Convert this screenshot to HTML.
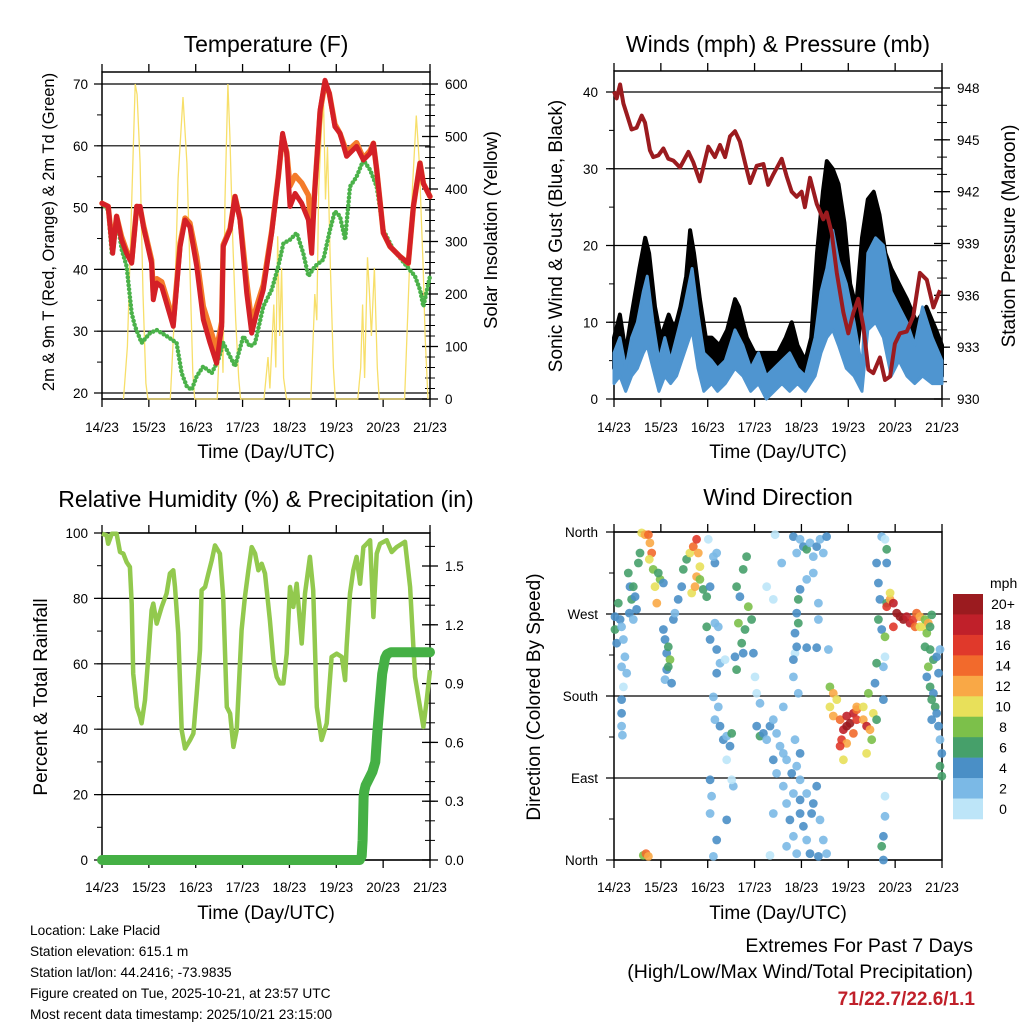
<!DOCTYPE html>
<html><head><meta charset="utf-8"><style>
html,body{margin:0;padding:0;background:#fff;}
svg{display:block;font-family:"Liberation Sans",Arial,sans-serif;}
</style></head><body>
<svg id="root" width="1024" height="1024" viewBox="0 0 1024 1024" xmlns="http://www.w3.org/2000/svg">
<rect width="1024" height="1024" fill="#fff"/>
<text x="266" y="52" font-size="23" text-anchor="middle">Temperature (F)</text>
<text x="778" y="52" font-size="23" text-anchor="middle">Winds (mph) &amp; Pressure (mb)</text>
<text x="266" y="507" font-size="23" text-anchor="middle">Relative Humidity (%) &amp; Precipitation (in)</text>
<text x="778" y="505" font-size="23" text-anchor="middle">Wind Direction</text>
<text x="266" y="458" font-size="19" text-anchor="middle">Time (Day/UTC)</text>
<text x="778" y="458" font-size="19" text-anchor="middle">Time (Day/UTC)</text>
<text x="266" y="919" font-size="19" text-anchor="middle">Time (Day/UTC)</text>
<text x="778" y="919" font-size="19" text-anchor="middle">Time (Day/UTC)</text>
<text transform="translate(54,232) rotate(-90)" font-size="16.5" text-anchor="middle">2m &amp; 9m T (Red, Orange) &amp; 2m Td (Green)</text>
<text transform="translate(497,230) rotate(-90)" font-size="18.5" text-anchor="middle">Solar Insolation (Yellow)</text>
<text transform="translate(562,236) rotate(-90)" font-size="19" text-anchor="middle">Sonic Wind &amp; Gust (Blue, Black)</text>
<text transform="translate(1015,236) rotate(-90)" font-size="19" text-anchor="middle">Station Pressure (Maroon)</text>
<text transform="translate(47,697) rotate(-90)" font-size="19" text-anchor="middle">Percent &amp; Total Rainfall</text>
<text transform="translate(540,697) rotate(-90)" font-size="19" text-anchor="middle">Direction (Colored By Speed)</text>
<g font-size="13.7">
<text x="30" y="935">Location: Lake Placid</text>
<text x="30" y="956">Station elevation: 615.1 m</text>
<text x="30" y="977">Station lat/lon: 44.2416; -73.9835</text>
<text x="30" y="998">Figure created on Tue, 2025-10-21, at 23:57 UTC</text>
<text x="30" y="1019">Most recent data timestamp: 2025/10/21 23:15:00</text>
</g>
<text x="973" y="952" font-size="19.5" text-anchor="end">Extremes For Past 7 Days</text>
<text x="973" y="978" font-size="19.5" text-anchor="end">(High/Low/Max Wind/Total Precipitation)</text>
<text x="975" y="1005" font-size="19" font-weight="bold" fill="#c0202a" text-anchor="end">71/22.7/22.6/1.1</text>
</svg>
<script>
// ---------- data ----------
const dayLabels=["14/23","15/23","16/23","17/23","18/23","19/23","20/23","21/23"];
const tempT=[0,3.2,5.5,7.5,10,12.6,15.2,17.8,19.5,21.2,25.4,26.3,28,30.6,34,36.5,40,42.5,45,48.5,51.9,55.3,58.7,61.3,62.1,65.6,68.1,70.7,74.1,76.7,79.2,82.6,86.9,90.3,92.5,94.6,96.3,98.9,102.3,105.7,107.4,109.1,111.7,114.2,116.4,119.3,121.9,125.3,130.4,133.9,137.3,139,140.7,144.1,147.5,152.6,156.9,159.5,162.9,164.6,168];
const temp2m=[50.7,50.2,42.6,48.6,44.8,42.6,41,50.2,50.2,46.9,41,35.1,37.8,37.2,33.5,30.8,43.7,48,46.9,40.5,31.9,28.1,24.8,30.8,43.7,46.4,51.8,48,36.2,29.7,32.9,36.7,45.9,55,62,58.8,50.2,52.3,50.7,48,42.6,53.4,65.8,70.6,68.5,63.1,62,58.3,59.9,57.7,58.8,60.4,56.1,45.9,43.7,42.1,41,50.2,57.2,53.9,51.8];
const temp9m=[50.7,50.2,43.2,48.6,45.3,43,41.4,50.2,50,47.2,41.5,36,38.5,38,34.5,31.5,44.2,48.3,47.5,42,34,30.5,27,31.5,44,46.6,51.8,48.3,38,31.3,34,37.5,46.2,55,61.6,59,53.5,55.2,54,52,46,53.4,65.5,70.2,68.5,63.5,62,59,60.5,58,59.2,60.4,56.1,45.9,43.7,42.1,41,50.2,57.2,53.9,51.8];
const tdT=[0,3.2,5,7.5,10.1,12.6,15.2,16.9,20.3,24.6,28,33.1,38.2,40.8,43.4,45.9,48.5,51.9,56.2,59.6,62.1,65.6,68.1,72.4,75.8,78.4,82.6,86.9,90.3,92.9,96.3,99.7,103.1,105.7,109.1,113.4,116.8,119.3,121.9,124.5,127,130.4,133.9,137.3,140.7,144.1,149.2,156.1,160.3,162.9,164.6,168];
const tdV=[50.7,49.6,42.6,48.6,43.2,40.5,32.9,30.8,28.1,29.7,30.2,29.2,28.1,23.2,21.1,20.5,22.7,24.3,23.2,25.4,28.1,25.9,24.3,29.2,27.5,28.1,34,36.7,40.5,44.2,44.8,45.9,42.6,38.9,40.5,41.6,46.4,49.4,48.6,44.8,53.4,55,57.7,56.1,53.4,46.4,43.2,40.5,38.9,36.7,34,38.9];
const solarT=[11,13,15,17,18,19.5,21,22.5,23.5,35,37,39,41.5,43.5,45,46.5,47.5,59,61,62,63,64.5,65.5,67,68.5,70,71,83,85,86,88,89,90,91,92,93,94.5,107,109,110,111,112.5,113.5,114.5,115.5,117,118.5,119.5,131,132.5,133.5,134.5,136,137,138,139.5,141,142,155,157,159,161,162.5,163.5,164.5,165.5,167];
const solarV=[0,100,350,600,580,450,200,30,0,0,150,420,575,450,250,50,0,0,180,50,380,600,500,300,150,40,0,0,80,20,180,60,310,120,250,40,0,0,200,150,400,520,560,380,480,250,60,0,0,60,180,40,270,200,120,250,60,0,0,200,400,540,450,350,250,120,0];
const presT=[0,1.4,3.1,4.8,6.5,9,11.6,14.2,15.9,18.4,20.1,22.7,25.3,27.8,30.4,33.8,38.1,40.6,44,48.3,51.7,54.3,56.9,59.4,62,64.5,67.9,69.7,73.1,76.5,79,81.6,85.9,88.4,91,93.6,96.1,97.8,100.4,103.8,107.2,108.9,111.5,114.1,117.5,120,122.6,125.1,127.7,130.3,132.8,136.2,138.8,141.4,143.9,146.5,149.9,153.3,156.7,160.2,163.6,167];
const presV=[947.8,947.4,948.2,947.1,946.5,945.6,945.7,946.4,946,944.4,944,944.1,944.5,943.9,943.8,943.4,944.3,943.7,942.6,944.6,944,944.7,944,945.2,945.5,944.9,943.3,942.5,943.5,943.6,942.4,943,943.9,942.9,942,941.7,942,941.1,942.8,941.3,940.4,940.8,939.6,937.3,935,933.8,935,935.8,934.2,931.7,931.5,932.4,931.1,931.3,933.2,933.8,933.9,934.8,937.3,936.9,935.3,936.3];
const windT=[0,3,6,9,12,15,17,20,23,26,29,32,36,40,43,46,50,53,57,62,66,70,74,78,82,86,90,94,98,103,106,109,112,115,119,123,127,130,134,138,142,146,150,154,158,163,168];
const windLo=[2,3,1,3,4,6,7,4,1,3,2,3,6,9,4,1,2,1,2,4,3,1,2,0,1,2,1,2,1,3,6,8,9,7,4,3,1,9,10,8,3,5,3,2,3,2,2];
const windHi=[6,8,4,8,10,14,16,10,5,8,5,8,12,17,11,6,5,4,5,9,7,4,6,3,4,5,6,4,3,8,14,17,22,18,15,10,4,19,21,20,14,12,10,7,12,8,5];
const gustT=[0,3,6,9,13,16,18,21,24,28,31,34,37,39,41,44,47,50,54,58,62,64,68,72,76,80,84,88,91,94,98,101,104,107,109,112,115,118,121,124,127,130,133,136,139,142,146,150,155,160,165,168];
const gustLo=[4,6,3,6,9,13,11,7,4,6,5,7,10,14,12,7,4,5,4,5,8,7,5,4,3,4,4,5,5,4,3,5,10,15,18,19,17,12,6,5,12,17,18,15,10,8,7,6,4,5,4,3];
const gustHi=[8,11,6,11,17,21,19,12,8,11,9,12,16,22,19,13,8,8,7,9,13,12,8,6,6,6,6,8,10,7,5,8,19,27,31,30,28,23,15,12,21,26,27,24,19,17,15,13,10,12,9,7];
const rhT=[0,2.4,3.2,5,7.5,9.2,10.9,12.6,14.3,15.2,16,17.8,19.5,20.3,22,23.7,25.4,26.3,28,30.6,33.1,34.8,36.5,37.4,39.1,40.8,42.5,45.1,46.8,48.5,50.2,51,52.8,54.5,56.2,57.9,60.4,62.1,63.9,65.6,67.3,69,71.5,73.2,75,76.7,78.4,80.1,81.8,83.5,86,87.8,89.5,91.2,92.9,94.6,96.3,98,99.7,102.3,104,106.5,108.2,110,112.5,115.1,117.6,120.2,122.8,124.5,125.3,127,128.7,130.4,132.2,133.9,135.6,137.3,139,140.7,142.4,145.8,148.4,150.9,155.2,157.8,160.3,162.9,164.6,166.3,168];
const rhV=[99.8,99.3,96.7,99.8,99.8,94.2,93.7,91.1,89.6,78.4,57,46.8,43.8,41.8,48.9,62.1,76.4,78.4,72.3,77.4,81.5,87.6,88.6,83.5,69.2,39.7,34.1,36.7,38.7,50.9,64.2,82.5,83.5,87.6,91.6,96.2,93.7,80.4,46.8,44.8,34.6,39.7,70.3,80.4,88.6,95.7,93.7,88.6,90.6,87.6,73.3,61.1,56,54,54,63.1,83.5,77.4,84.5,66.2,81.5,92.7,82.5,46.8,36.7,41.8,62.1,63.1,62.1,55,65.2,81.5,88.6,92.7,84.5,95.7,96.7,97.8,74.3,93.7,96.7,97.8,94.2,95.7,97.3,83.5,56,46.8,40.7,48.9,58];
const precipT=[0,132,133,133.5,134,134.3,135,137,138.5,140,141,142,143.5,145,146,148,168];
const precipV=[0,0,0.02,0.1,0.32,0.35,0.38,0.42,0.45,0.5,0.65,0.77,0.95,1.03,1.05,1.06,1.06];
const dirT=[0.5,0.5,1.4,2.2,3.1,3.9,4.8,5.6,3.9,4.8,6.5,7.3,8.2,9,9.9,10.8,11.6,7.9,9.9,12.5,13.3,14.2,15.9,17.6,18.4,19.3,18.1,20.1,21,21.9,23.6,25.3,22.7,15,16.4,17.6,3.9,3.9,3.9,4.3,25.3,26.1,27,27.8,28.7,27,26.1,29.5,27.8,30.4,31.2,32.9,34.7,35.5,37.2,38.9,40.6,42.3,43.2,44,42.3,39.8,41.5,44,45.7,47.5,49.2,51.7,50.9,52.6,48.3,47.5,49.2,51.7,53.4,52.6,54.3,56.9,52.6,50.9,53.4,51.7,54.3,56,57.7,60.3,59.4,57.7,49.2,50,49.2,52.6,50.9,57.7,61.1,60.3,62.8,64.5,66.2,67.9,68.8,70.5,67.1,65.4,63.7,62,62.8,66.2,71.4,72.2,73.1,74.8,73.1,74.8,76.5,78.2,79.9,81.6,83.3,85,86.7,88.4,91,93.6,95.3,92.7,95.3,81.6,83.3,78.2,81.6,85.9,82.5,91.9,92.7,94.4,86.7,86.7,88.4,90.1,91.9,93.6,95.3,97,98.7,100.4,102.1,103.8,105.5,107.2,108.9,88.4,98.7,101.2,95.3,91.9,81.6,79.9,104.7,91.9,93.6,95.3,97,98.7,100.4,102.1,103.8,105.5,107.2,108.9,95.3,98.7,102.1,104.7,94.4,93.6,94.4,92.7,93.6,98.7,103.8,104.7,109.8,91.9,110.6,112.3,114.1,110.6,112.3,115.8,119.2,122.6,120.9,124.3,117.5,119.2,116.6,119.2,124.3,127.7,129.4,131.1,132.8,130.3,132,134.5,124.3,122.6,115.8,117.5,129.4,127.7,134.5,135.4,136.2,135.4,137.1,138.8,138.8,138,134.5,139.7,139.7,137.1,138.8,138,133.7,138.8,138.8,138,137.1,138,139.7,139.7,141.4,143.1,144.8,146.5,148.2,149.9,151.6,153.3,155,156.7,158.4,159.3,161,160.2,161.9,162.7,143.1,141.4,154.2,156.7,159.3,161.9,163.6,165.3,161,160.2,161.9,163.6,164.5,162.7,162.7,165.3,166.2,167,167.9,167,167.9,166.2,167];
const dirDeg=[267,253,238,282,264,256,242,223,212,190,205,315,300,286,300,289,275,271,264,326,337,359,357,357,348,337,330,319,300,282,308,304,315,5,7,4,176,161,147,137,253,242,227,234,220,209,198,194,212,264,271,286,300,319,330,337,344,352,337,322,311,293,300,308,297,289,300,326,333,337,352,256,242,260,256,231,216,220,205,179,168,154,147,132,136,139,125,110,88,70,51,22,4,44,81,88,300,289,319,333,278,264,253,238,260,223,209,227,227,201,183,172,147,136,139,132,147,154,139,125,117,110,95,103,88,132,117,110,95,300,286,326,357,201,227,183,168,81,62,44,26,7,51,37,22,7,62,81,44,22,7,15,73,51,66,73,51,5,4,355,337,352,344,341,348,333,344,352,337,355,297,308,315,282,286,271,260,249,234,233,233,264,231,220,190,183,176,168,158,154,158,161,150,154,143,147,132,128,165,154,147,143,161,183,132,154,168,139,125,110,117,168,326,304,286,264,253,245,223,212,216,326,341,355,352,176,194,70,48,26,15,0,282,278,286,282,271,267,264,267,260,264,271,267,256,264,260,249,256,269,256,293,256,256,234,231,220,223,212,201,190,183,168,176,154,161,147,132,117,103,92,205,231];
const dirSpd=[4,6,4,7,5,3,2,2,3,1,3,6,5,7,6,5,4,4,3,7,7,10,12,15,12,14,11,9,10,13,8,5,6,8,15,12,4,4,3,2,4,5,4,7,8,5,2,4,6,4,3,4,5,6,7,10,14,16,13,11,12,10,12,9,7,6,4,4,3,3,1,6,4,3,2,4,2,1,4,2,3,3,4,4,2,7,4,1,4,3,3,4,2,4,2,1,6,5,7,6,8,6,7,6,8,4,7,4,4,1,1,2,4,6,4,3,4,3,2,3,2,3,4,3,3,2,4,4,2,1,1,2,1,2,1,2,2,2,3,4,3,2,4,4,3,4,5,4,2,3,2,2,3,4,4,3,2,1,4,4,2,3,4,6,3,2,4,3,3,4,4,3,3,2,6,5,6,4,4,4,4,2,3,4,9,12,10,10,12,15,18,19,20,16,19,21,16,12,15,12,18,13,10,8,8,7,13,15,17,10,10,10,4,4,4,6,5,8,1,3,6,4,7,2,1,4,4,1,2,4,7,4,6,16,12,18,20,22,21,19,18,16,15,13,11,9,12,8,7,6,16,10,14,10,7,7,6,4,8,4,6,5,6,6,5,4,4,3,4,6,7,4,3];
const speedLabels=["0","2","4","6","8","10","12","14","16","18","20+"];
const speedColors=["#bde5f8","#7bb9e6","#4a8fc6","#46a06a","#7cc04a","#e8e05a","#f9a846","#f26a2c","#e0392b","#c0202a","#9b1b1f"];

// ---------- helpers ----------
const NS="http://www.w3.org/2000/svg";
const root=document.getElementById('root');
function mk(tag,attrs,parent){const e=document.createElementNS(NS,tag);for(const k in attrs)e.setAttribute(k,attrs[k]);(parent||root).appendChild(e);return e;}
function pathD(xs,ys){let d='';for(let i=0;i<xs.length;i++)d+=(i?'L':'M')+xs[i].toFixed(1)+','+ys[i].toFixed(1);return d;}
function xs(p,T){return T.map(t=>p.x0+t/168*(p.x1-p.x0));}
function lin(v0,p0,v1,p1){return v=>p0+(v-v0)*(p1-p0)/(v1-v0);}

function frame(p,name,bottomLabelsY){
  const g=mk('g',{});
  
  
  for(let d=0;d<=7;d++){
    const x=p.x0+d*(p.x1-p.x0)/7;
    mk('line',{x1:x,x2:x,y1:p.y0-8,y2:p.y0,stroke:'#000','stroke-width':1.3},g);
    mk('line',{x1:x,x2:x,y1:p.y1,y2:p.y1+8,stroke:'#000','stroke-width':1.3},g);
    const t=mk('text',{x:x,y:bottomLabelsY,'font-size':13.5,'text-anchor':'middle'},g);
    t.textContent=dayLabels[d];
    
    
  }
  return g;
}
function box(p,g){mk('rect',{x:p.x0,y:p.y0,width:p.x1-p.x0,height:p.y1-p.y0,fill:'none',stroke:'#000','stroke-width':1.5},g);}
function leftAxis(p,g,vals,labels,sc,minor,labelX){
  minor.forEach(v=>mk('line',{x1:p.x0-5,x2:p.x0,y1:sc(v),y2:sc(v),stroke:'#000','stroke-width':1},g));
  vals.forEach((v,i)=>{
    const y=sc(v);
    mk('line',{x1:p.x0-8,x2:p.x1,y1:y,y2:y,stroke:'#000','stroke-width':1.2},g);
    const t=mk('text',{x:labelX,y:y+5,'font-size':13.5,'text-anchor':'end'},g);
    t.textContent=labels[i];
    
    
  });
}
function rightAxis(p,g,vals,labels,sc,minor){
  minor.forEach(v=>mk('line',{x1:p.x1-5,x2:p.x1+5,y1:sc(v),y2:sc(v),stroke:'#000','stroke-width':1},g));
  vals.forEach((v,i)=>{
    const y=sc(v);
    mk('line',{x1:p.x1-8,x2:p.x1+8,y1:y,y2:y,stroke:'#000','stroke-width':1.3},g);
    const t=mk('text',{x:p.x1+15,y:y+5,'font-size':13.5},g);
    t.textContent=labels[i];
    
    
  });
}
function range(a,b,s){const r=[];for(let v=a;v<=b+1e-9;v+=s)r.push(+v.toFixed(3));return r;}

// ---------- Panel 1: Temperature ----------
(function(){
  const p={x0:102,x1:430,y0:72,y1:399};
  const yT=lin(20,393,70,84), yS=lin(0,399,600,84);
  const g=frame(p,'temperature',432);
  leftAxis(p,g,[20,30,40,50,60,70],["20","30","40","50","60","70"],yT,range(20,70,5),88);
  rightAxis(p,g,[0,100,200,300,400,500,600],["0","100","200","300","400","500","600"],yS,range(0,600,20));
  const s=mk('path',{d:pathD(xs(p,solarT),solarV.map(yS)),fill:'none',stroke:'#f7df6a','stroke-width':1.3});
  
  
  const td=mk('path',{d:pathD(xs(p,tdT),tdV.map(yT)),fill:'none',stroke:'#4bb24a','stroke-width':4.5,'stroke-dasharray':'0 4','stroke-linecap':'round','stroke-linejoin':'round'});
  
  
  const o=mk('path',{d:pathD(xs(p,tempT),temp9m.map(yT)),fill:'none',stroke:'#f47b2a','stroke-width':5.5,'stroke-linejoin':'round','stroke-linecap':'round'});
  
  
  const r=mk('path',{d:pathD(xs(p,tempT),temp2m.map(yT)),fill:'none',stroke:'#d42027','stroke-width':5,'stroke-linejoin':'round','stroke-linecap':'round'});
  
  
  box(p,g);
})();

// ---------- Panel 2: Winds & Pressure ----------
(function(){
  const p={x0:614,x1:942,y0:71,y1:399};
  const yW=lin(0,399,40,92), yP=lin(930,399,948,88);
  const g=frame(p,'winds',432);
  leftAxis(p,g,[0,10,20,30,40],["0","10","20","30","40"],yW,range(0,40,5),598);
  rightAxis(p,g,[930,933,936,939,942,945,948],["930","933","936","939","942","945","948"],yP,range(930,948,1));
  const X=xs(p,gustT);
  const gd=pathD(X,gustHi.map(yW))+pathD(X.slice().reverse(),gustLo.slice().reverse().map(yW)).replace('M','L')+'Z';
  const gf=mk('path',{d:gd,fill:'#000',stroke:'#000','stroke-width':4,'stroke-linejoin':'round'});
  
  
  const WX=xs(p,windT);
  const wd=pathD(WX,windHi.map(yW))+pathD(WX.slice().reverse(),windLo.slice().reverse().map(yW)).replace('M','L')+'Z';
  const wb=mk('path',{d:wd,fill:'#4f95d0',stroke:'#4f95d0','stroke-width':3,'stroke-linejoin':'round'});
  
  
  const pr=mk('path',{d:pathD(xs(p,presT),presV.map(yP)),fill:'none',stroke:'#9b1b1f','stroke-width':4,'stroke-linejoin':'round'});
  
  
  box(p,g);
})();

// ---------- Panel 3: RH & Precip ----------
(function(){
  const p={x0:102,x1:430,y0:533,y1:860};
  const yR=lin(0,860,100,533), yPr=lin(0,860,1.5,566);
  const g=frame(p,'rh',892);
  leftAxis(p,g,[0,20,40,60,80,100],["0","20","40","60","80","100"],yR,range(0,100,10),88);
  rightAxis(p,g,[0,0.3,0.6,0.9,1.2,1.5],["0.0","0.3","0.6","0.9","1.2","1.5"],yPr,range(0,1.65,0.1));
  const rh=mk('path',{d:pathD(xs(p,rhT),rhV.map(yR)),fill:'none',stroke:'#92c94e','stroke-width':4.5,'stroke-linejoin':'round'});
  
  
  const pc=mk('path',{d:pathD(xs(p,precipT),precipV.map(yPr)),fill:'none',stroke:'#45b045','stroke-width':10,'stroke-linecap':'round','stroke-linejoin':'round'});
  
  
  box(p,g);
})();

// ---------- Panel 4: Wind direction ----------
(function(){
  const p={x0:614,x1:942,y0:532,y1:860};
  const yD=lin(0,860,360,532);
  const g=frame(p,'wind-direction',892);
  leftAxis(p,g,[0,90,180,270,360],["North","East","South","West","North"],yD,range(0,360,45),598);
  const X=xs(p,dirT);
  for(let i=0;i<dirT.length;i++){
    const bin=Math.min(10,Math.floor(dirSpd[i]/2));
    const c=mk('circle',{cx:X[i].toFixed(1),cy:yD(dirDeg[i]).toFixed(1),r:4.4,fill:speedColors[bin],'fill-opacity':0.9});
    
    
  }
  box(p,g);
  const lg=mk('g',{});
  
  
  const mt=mk('text',{x:990,y:588,'font-size':14},lg);
  mt.textContent='mph';
  
  
  const h=225/speedColors.length;
  for(let i=0;i<speedColors.length;i++){
    const k=speedColors.length-1-i;
    const y=594+i*h;
    const r=mk('rect',{x:953,y:y,width:30,height:h+0.3,fill:speedColors[k]},lg);
    
    
    const t=mk('text',{x:1003,y:y+h/2+5,'font-size':14,'text-anchor':'middle'},lg);
    t.textContent=speedLabels[k];
    
    
  }
})();
</script>
</body></html>
